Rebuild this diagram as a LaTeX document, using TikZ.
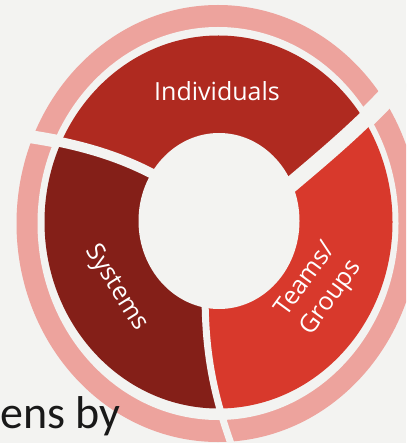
\documentclass[tikz,border=0pt]{standalone}
\usepackage{fontspec}
\newfontfamily\lblfont{Open Sans}
\newfontfamily\bodyfont{Carlito}
\definecolor{bgc}{HTML}{F3F3F1}
\definecolor{pinkc}{HTML}{EDA39D}
\definecolor{indc}{HTML}{AF2A20}
\definecolor{sysc}{HTML}{841F18}
\definecolor{teamc}{HTML}{D8392C}
\tikzset{
  lbl/.style={text=white, font=\lblfont\fontsize{25bp}{31bp}\selectfont, align=center, inner sep=0pt},
  gapband/.style={draw=bgc, line cap=butt}
}
\begin{document}
\begin{tikzpicture}[x=1bp,y=-1bp]
\useasboundingbox (0,0) rectangle (406,443);
\clip (0,0) rectangle (406,443);
\fill[bgc] (0,0) rectangle (406,443);
% gap curve points
\coordinate (A0) at (281,193); \coordinate (A1) at (330,151.7); \coordinate (A2) at (367,120.8); \coordinate (A3) at (402,80);
\coordinate (L0) at (167,182); \coordinate (L1) at (125,157); \coordinate (L2) at (75,141); \coordinate (L3) at (2,133);
\coordinate (B0) at (205,290); \coordinate (B1) at (205,340); \coordinate (B2) at (209,385); \coordinate (B3) at (234,452);
\coordinate (C) at (219,221);
% pink ring
\fill[pinkc] (218,223.5) ellipse [x radius=201.5, y radius=218.5];
\draw[gapband, line width=20bp] (A0) .. controls (A1) and (A2) .. (A3);
\draw[gapband, line width=13bp] (L0) .. controls (L1) and (L2) .. (L3);
\draw[gapband, line width=6bp] (B0) .. controls (B1) and (B2) .. (B3);
\fill[bgc] (218,223.5) ellipse [x radius=180.5, y radius=196.5];
% donut sectors
\begin{scope}
\clip (218.5,222) ellipse [x radius=174, y radius=186.5];
\fill[indc] (C) -- (L0) .. controls (L1) and (L2) .. (L3) -- (-20,133) -- (-20,-20) -- (430,-20) -- (430,80) -- (A3) .. controls (A2) and (A1) .. (A0) -- cycle;
\fill[teamc] (C) -- (A0) .. controls (A1) and (A2) .. (A3) -- (430,80) -- (430,470) -- (234,470) -- (B3) .. controls (B2) and (B1) .. (B0) -- cycle;
\fill[sysc] (C) -- (B0) .. controls (B1) and (B2) .. (B3) -- (234,470) -- (-20,470) -- (-20,133) -- (L3) .. controls (L2) and (L1) .. (L0) -- cycle;
\end{scope}
% hole
\fill[bgc] (219,221) ellipse [x radius=80.5, y radius=88];
% donut gaps
\draw[gapband, line width=16bp] (A0) .. controls (A1) and (A2) .. (A3);
\draw[gapband, line width=10bp] (L0) .. controls (L1) and (L2) .. (L3);
\draw[gapband, line width=7bp] (B0) .. controls (B1) and (B2) .. (B3);
% labels
\node[lbl] (ind) at (217,91) {Individuals};
\node[lbl, rotate=-58] (sys) at (116,288) {Systems};
\node[lbl, rotate=54] (team) at (319,289) {Teams/\\Groups};
\node[anchor=base west, inner sep=0pt, text=black!90, font=\bodyfont\fontsize{46bp}{50bp}\selectfont] (body) at (0,428) {ens by};
\end{tikzpicture}
\end{document}
